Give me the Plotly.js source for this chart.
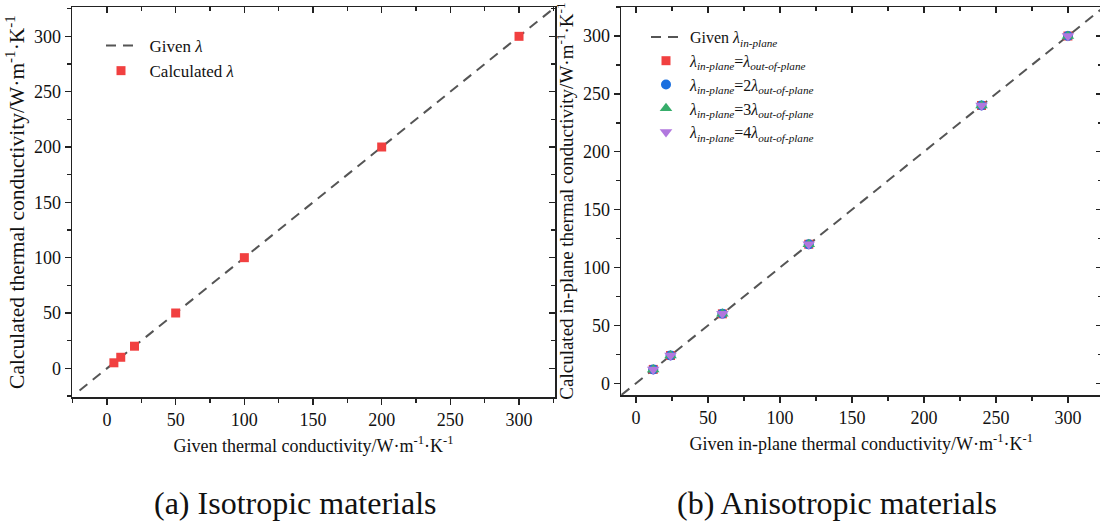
<!DOCTYPE html>
<html>
<head>
<meta charset="utf-8">
<script src="https://cdn.plot.ly/plotly-3.0.1.min.js"></script>
<style>
html, body { margin: 0; padding: 0; overflow: hidden; background: #fff; }
#chart { width: 1103px; height: 526px; }
</style>
</head>
<body>
<div id="chart"></div>
<script>
// ---- Data ----
// (a) Isotropic materials
const isoGivenLine = [-20, 330];
const isoGiven = [5, 10, 20, 50, 100, 200, 300];
const isoCalc = [5, 10, 20, 50, 100, 200, 300];

// (b) Anisotropic materials
const anisoGivenLine = [-10, 330];
const anisoGiven = [12, 24, 60, 120, 240, 300];
const anisoRatio1 = [12, 24, 60, 120, 240, 300];
const anisoRatio2 = [12, 24, 60, 120, 240, 300];
const anisoRatio3 = [12, 24, 60, 120, 240, 300];
const anisoRatio4 = [12, 24, 60, 120, 240, 300];

const tickVals = [0, 50, 100, 150, 200, 250, 300];
const tickText = ['0', '50', '100', '150', '200', '250', '300'];

const captions = ['(a) Isotropic materials', '(b) Anisotropic materials'];
const xTitles = ['Given thermal conductivity/W·m<sup>-1</sup>·K<sup>-1</sup>',
                 'Given in-plane thermal conductivity/W·m<sup>-1</sup>·K<sup>-1</sup>'];
const yTitles = ['Calculated thermal conductivity/W·m<sup>-1</sup>·K<sup>-1</sup>',
                 'Calculated in-plane thermal conductivity/W·m<sup>-1</sup>·K<sup>-1</sup>'];

const names = {
  given: '\u00a0\u00a0Given <i>λ</i>',
  calc: '\u00a0\u00a0Calculated <i>λ</i>',
  givenIn: '\u00a0Given <i>λ<sub>in-plane</sub></i>',
  r1: '\u00a0<i>λ<sub>in-plane</sub></i>=<i>λ<sub>out-of-plane</sub></i>',
  r2: '\u00a0<i>λ<sub>in-plane</sub></i>=2<i>λ<sub>out-of-plane</sub></i>',
  r3: '\u00a0<i>λ<sub>in-plane</sub></i>=3<i>λ<sub>out-of-plane</sub></i>',
  r4: '\u00a0<i>λ<sub>in-plane</sub></i>=4<i>λ<sub>out-of-plane</sub></i>'
};

// ---- Styles ----
const W = 1103, H = 526;
const FONT = 'Liberation Serif, Times New Roman, serif';
const RED = '#F14040', BLUE = '#1A6FDF', GREEN = '#37AD6B', PURPLE = '#B177DE';
const lineStyle = {color: '#555555', width: 2, dash: '10px,7px'};

const px = v => v / W;
const py = v => 1 - v / H;

const leftX = [px(72), px(555)];
const leftY = [py(397), py(7)];
const rightX = [px(621), px(1101.5)];
const rightY = [py(395), py(7)];

const rangeLX = [-25.5, 326.2];
const rangeLY = [-25.9, 326.5];
const rangeRX = [-10.4, 323.3];
const rangeRY = [-10.1, 325];

function mainAxis(domain, anchor, range, title, titleSize, standoff) {
  return {
    domain: domain, anchor: anchor, range: range,
    showline: true, linecolor: '#222', linewidth: 1.5, mirror: true,
    ticks: 'outside', ticklen: 6, tickwidth: 1.5, tickcolor: '#222',
    tickmode: 'array', tickvals: tickVals, ticktext: tickText,
    minor: {dtick: 25, tick0: 0, ticks: 'outside', ticklen: 4, tickwidth: 1.5, tickcolor: '#222', showgrid: false},
    showgrid: false, zeroline: false,
    tickfont: {family: FONT, size: 18, color: '#111'},
    title: {text: title, font: {family: FONT, size: titleSize, color: '#111'}, standoff: standoff},
    automargin: false
  };
}
function mirrorAxis(overlay, side, anchor, range) {
  return {
    overlaying: overlay, side: side, anchor: anchor, range: range,
    showline: false, showticklabels: false,
    ticks: 'inside', ticklen: 6, tickwidth: 1.5, tickcolor: '#222',
    tickmode: 'array', tickvals: tickVals,
    minor: {dtick: 25, tick0: 0, ticks: 'inside', ticklen: 4, tickwidth: 1.5, tickcolor: '#222', showgrid: false},
    showgrid: false, zeroline: false, automargin: false
  };
}

const dummy = (xa, ya) => ({x: [0], y: [0], xaxis: xa, yaxis: ya, mode: 'markers',
  marker: {opacity: 0}, showlegend: false, hoverinfo: 'skip'});

const traces = [
  // (a)
  {x: isoGivenLine, y: isoGivenLine, mode: 'lines', name: names.given, line: lineStyle,
   xaxis: 'x', yaxis: 'y', legend: 'legend'},
  {x: isoGiven, y: isoCalc, mode: 'markers', name: names.calc,
   marker: {symbol: 'square', size: 9, color: RED}, xaxis: 'x', yaxis: 'y', legend: 'legend'},
  // (b)
  {x: anisoGivenLine, y: anisoGivenLine, mode: 'lines', name: names.givenIn, line: lineStyle,
   xaxis: 'x2', yaxis: 'y2', legend: 'legend2'},
  {x: anisoGiven, y: anisoRatio1, mode: 'markers', name: names.r1,
   marker: {symbol: 'square', size: 9, color: RED}, xaxis: 'x2', yaxis: 'y2', legend: 'legend2'},
  {x: anisoGiven, y: anisoRatio2, mode: 'markers', name: names.r2,
   marker: {symbol: 'circle', size: 10, color: BLUE}, xaxis: 'x2', yaxis: 'y2', legend: 'legend2'},
  {x: anisoGiven, y: anisoRatio3, mode: 'markers', name: names.r3,
   marker: {symbol: 'triangle-up', size: 11, color: GREEN}, xaxis: 'x2', yaxis: 'y2', legend: 'legend2'},
  {x: anisoGiven, y: anisoRatio4, mode: 'markers', name: names.r4,
   marker: {symbol: 'triangle-down', size: 11, color: PURPLE}, xaxis: 'x2', yaxis: 'y2', legend: 'legend2'},
  dummy('x3', 'y'), dummy('x', 'y3'), dummy('x4', 'y2'), dummy('x2', 'y4')
];

const layout = {
  width: W, height: H,
  margin: {l: 0, r: 0, t: 0, b: 0, pad: 0},
  paper_bgcolor: '#fff', plot_bgcolor: '#fff',
  font: {family: FONT, color: '#111'},
  showlegend: true,
  xaxis: mainAxis(leftX, 'y', rangeLX, xTitles[0], 18, 10),
  yaxis: mainAxis(leftY, 'x', rangeLY, yTitles[0], 21.5, 3),
  xaxis2: mainAxis(rightX, 'y2', rangeRX, xTitles[1], 18, 10),
  yaxis2: mainAxis(rightY, 'x2', rangeRY, yTitles[1], 19, 4),
  xaxis3: mirrorAxis('x', 'top', 'y', rangeLX),
  yaxis3: mirrorAxis('y', 'right', 'x', rangeLY),
  xaxis4: mirrorAxis('x2', 'top', 'y2', rangeRX),
  yaxis4: mirrorAxis('y2', 'right', 'x2', rangeRY),
  legend: {x: px(101), y: py(28), xanchor: 'left', yanchor: 'top', bgcolor: 'rgba(0,0,0,0)',
    font: {family: FONT, size: 17, color: '#111'}, itemwidth: 30, tracegroupgap: 0},
  legend2: {x: px(646), y: py(20), xanchor: 'left', yanchor: 'top', bgcolor: 'rgba(0,0,0,0)',
    font: {family: FONT, size: 16, color: '#111'}, itemwidth: 30, tracegroupgap: 0},
  annotations: [
    {text: captions[0], xref: 'paper', yref: 'paper', x: px(295), y: py(503), xanchor: 'center', yanchor: 'middle',
     showarrow: false, font: {family: FONT, size: 32, color: '#111'}},
    {text: captions[1], xref: 'paper', yref: 'paper', x: px(837), y: py(503), xanchor: 'center', yanchor: 'middle',
     showarrow: false, font: {family: FONT, size: 32, color: '#111'}}
  ]
};

Plotly.newPlot('chart', traces, layout, {displayModeBar: false, staticPlot: true});
</script>
</body>
</html>
